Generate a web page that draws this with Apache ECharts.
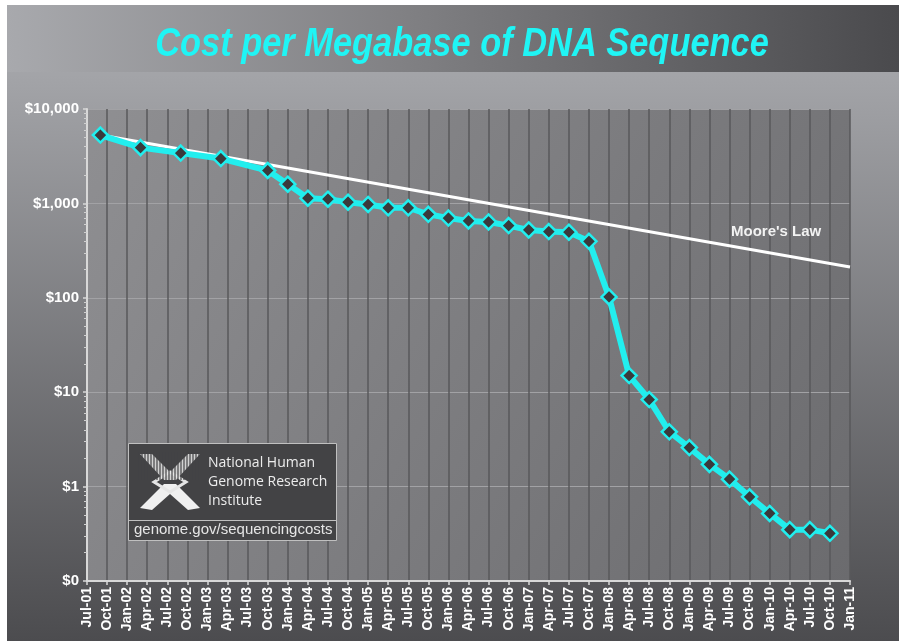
<!DOCTYPE html>
<html>
<head>
<meta charset="utf-8">
<script src="https://cdn.jsdelivr.net/npm/echarts@6/dist/echarts.min.js"></script>
<style>
  html, body { margin: 0; padding: 0; background: #fff; }
  #wrap { position: relative; width: 902px; height: 641px; overflow: hidden; }
  #panel {
    position: absolute; left: 7px; top: 5px; width: 892px; height: 636px;
    background: linear-gradient(to bottom, #a6a7ab 0px, #a3a4a8 70px, #4c4c4f 636px);
  }
  #band {
    position: absolute; left: 7px; top: 5px; width: 892px; height: 67px;
    background: linear-gradient(to right, #a8a9ad, #808083 45%, #4a4a4d);
  }
  #chart { position: absolute; left: 0; top: 0; width: 902px; height: 641px; }
</style>
</head>
<body>
<div id="wrap">
  <div id="panel"></div>
  <div id="band"></div>
  <div id="chart"></div>
</div>
<script>
// quarterly tick labels, Jul-01 .. Jan-11
const xLabels = ['Jul-01','Oct-01','Jan-02','Apr-02','Jul-02','Oct-02','Jan-03','Apr-03','Jul-03','Oct-03',
  'Jan-04','Apr-04','Jul-04','Oct-04','Jan-05','Apr-05','Jul-05','Oct-05','Jan-06','Apr-06',
  'Jul-06','Oct-06','Jan-07','Apr-07','Jul-07','Oct-07','Jan-08','Apr-08','Jul-08','Oct-08',
  'Jan-09','Apr-09','Jul-09','Oct-09','Jan-10','Apr-10','Jul-10','Oct-10','Jan-11'];

// measured cost per megabase (USD)
const costDates = ['Sep-01','Mar-02','Sep-02','Mar-03','Oct-03','Jan-04','Apr-04','Jul-04','Oct-04','Jan-05',
  'Apr-05','Jul-05','Oct-05','Jan-06','Apr-06','Jul-06','Oct-06','Jan-07','Apr-07','Jul-07',
  'Oct-07','Jan-08','Apr-08','Jul-08','Oct-08','Jan-09','Apr-09','Jul-09','Oct-09','Jan-10',
  'Apr-10','Jul-10','Oct-10'];
const costValues = [5292, 3899, 3414, 2986, 2231, 1599, 1136, 1107, 1029, 974,
  898, 899, 767, 699, 652, 636, 582, 523, 503, 496,
  397, 102, 15.0, 8.36, 3.81, 2.59, 1.72, 1.20, 0.78, 0.52,
  0.35, 0.35, 0.32];

// Moore's law reference line (start / end)
const mooreDates = ['Sep-01', 'Jan-11'];
const mooreValues = [5292, 212];

const yTickLabels = { '0.1': '$0', '1': '$1', '10': '$10', '100': '$100', '1000': '$1,000', '10000': '$10,000' };

const months = ['Jan','Feb','Mar','Apr','May','Jun','Jul','Aug','Sep','Oct','Nov','Dec'];
// months since Jul-01
function monthIndex(label) {
  const p = label.split('-');
  return (parseInt(p[1], 10) - 1) * 12 + months.indexOf(p[0]) - 6;
}

const costData = costDates.map((d, i) => [monthIndex(d), costValues[i]]);
const mooreData = mooreDates.map((d, i) => [monthIndex(d), mooreValues[i]]);

const cyan = '#22eeee';
const chart = echarts.init(document.getElementById('chart'));

// striped upper arms of the logo
const stripes = [];
for (let x = 139; x <= 201; x += 3) {
  stripes.push({
    type: 'line', z: 103,
    shape: { x1: x, y1: 452, x2: x, y2: 480 },
    style: { stroke: '#444446', lineWidth: 1.2 }
  });
}

chart.setOption({
  backgroundColor: 'transparent',
  animation: false,
  grid: {
    left: 87, right: 52, top: 109, bottom: 60,
    show: true,
    borderWidth: 0,
    backgroundColor: new echarts.graphic.LinearGradient(0, 0, 1, 1, [
      { offset: 0, color: '#8f8f92' },
      { offset: 1, color: '#6b6b6e' }
    ])
  },
  xAxis: {
    type: 'value',
    min: 0, max: 114, interval: 3,
    axisLine: { show: true, lineStyle: { color: '#d8d8d8', width: 2 } },
    axisTick: { show: true, length: 4, lineStyle: { color: '#d8d8d8', width: 1.5 } },
    splitLine: { show: true, lineStyle: { color: '#58585b', width: 1.5 } },
    axisLabel: {
      rotate: 90, margin: 6,
      color: '#ffffff', fontFamily: 'Liberation Sans, Arial, sans-serif',
      fontWeight: 'bold', fontSize: 14,
      formatter: v => xLabels[Math.round(v / 3)] || ''
    }
  },
  yAxis: {
    type: 'log', logBase: 10,
    min: 0.1, max: 10000,
    axisLine: { show: true, lineStyle: { color: '#d8d8d8', width: 2 } },
    axisTick: { show: true, length: 4, lineStyle: { color: '#d8d8d8', width: 1.5 } },
    minorTick: { show: true, splitNumber: 9, length: 3, lineStyle: { color: '#d0d0d0', width: 1 } },
    splitLine: { show: true, lineStyle: { color: '#a2a2a5', width: 1 } },
    axisLabel: {
      margin: 8,
      color: '#ffffff', fontFamily: 'Liberation Sans, Arial, sans-serif',
      fontWeight: 'bold', fontSize: 15,
      formatter: v => {
        const k = String(Math.round(v * 10) / 10);
        return yTickLabels[k] || '';
      }
    }
  },
  series: [
    {
      name: "Moore's Law",
      type: 'line',
      data: mooreData,
      symbol: 'none',
      lineStyle: { color: '#ffffff', width: 3 },
      z: 2
    },
    {
      name: 'Cost per Megabase',
      type: 'line',
      data: costData,
      symbol: 'diamond',
      symbolSize: 15,
      lineStyle: { color: cyan, width: 6 },
      itemStyle: { color: '#3a3a3c', borderColor: cyan, borderWidth: 2.5 },
      z: 3
    }
  ],
  graphic: [
    {
      type: 'text', x: 462, y: 45, scaleX: 0.86, z: 100,
      style: {
        text: 'Cost per Megabase of DNA Sequence',
        fill: '#1ff5f5',
        font: 'italic bold 40px "Liberation Sans", Arial, sans-serif',
        align: 'center', verticalAlign: 'middle'
      }
    },
    {
      type: 'text', x: 731, y: 232, z: 100,
      style: {
        text: "Moore's Law",
        fill: '#f2f2f2',
        font: 'bold 15px "Liberation Sans", Arial, sans-serif',
        align: 'left', verticalAlign: 'middle'
      }
    },
    // NHGRI logo box
    {
      type: 'rect', z: 100,
      shape: { x: 128.5, y: 443.5, width: 208, height: 97 },
      style: { fill: '#434345', stroke: '#c0c0c0', lineWidth: 1 }
    },
    {
      type: 'line', z: 101,
      shape: { x1: 128, y1: 520.5, x2: 337, y2: 520.5 },
      style: { stroke: '#c0c0c0', lineWidth: 1 }
    },
    {
      type: 'polygon', z: 102,
      shape: { points: [[140, 454], [152, 454], [170, 472], [188, 454], [200, 454], [176, 480], [164, 480]] },
      style: { fill: 'rgba(235,235,235,0.85)' }
    },
    ...stripes,
    {
      type: 'polygon', z: 102,
      shape: { points: [[164, 484], [176, 484], [200, 508], [188, 510], [170, 494], [152, 510], [140, 508]] },
      style: { fill: '#f0f0f0' }
    },
    {
      type: 'polygon', z: 102,
      shape: { points: [[154, 482], [170, 472], [186, 482], [170, 492]] },
      style: { fill: 'none', stroke: '#e6e6e6', lineWidth: 3 }
    },
    {
      type: 'text', z: 104,
      style: {
        text: 'National Human\nGenome Research\nInstitute',
        fill: '#ececec', lineHeight: 19,
        font: '14px "Open Sans", "Liberation Sans", sans-serif'
      },
      top: 454, left: 208
    },
    {
      type: 'text', left: 134, top: 522, z: 104,
      style: {
        text: 'genome.gov/sequencingcosts',
        fill: '#e6e6e6',
        font: '15px "Liberation Sans", Arial, sans-serif'
      }
    }
  ]
});
</script>
</body>
</html>
